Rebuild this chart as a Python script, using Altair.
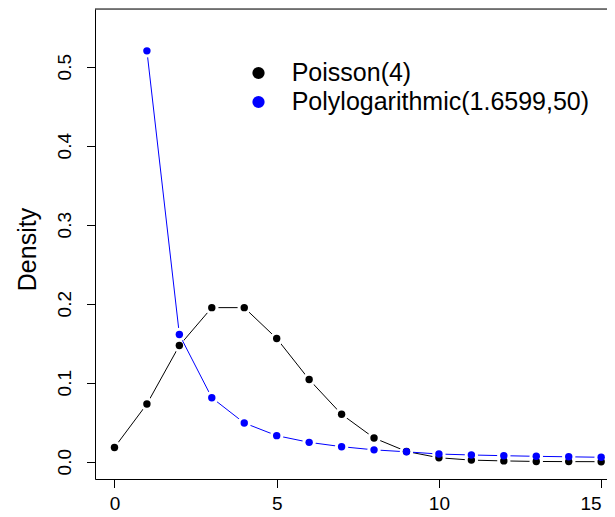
import altair as alt
import pandas as pd

# ---- data ----
k_pois = list(range(0, 16))
poisson = [0.018, 0.073, 0.147, 0.195, 0.195, 0.156, 0.104, 0.060, 0.030,
           0.013, 0.005, 0.002, 0.001, 0.0003, 0.0001, 0.00003]
k_poly = list(range(1, 16))
polylog = [0.520, 0.161, 0.081, 0.049, 0.033, 0.0245, 0.019, 0.015, 0.0125,
           0.0097, 0.0085, 0.0076, 0.0068, 0.0062, 0.0056]
series_names = ["Poisson(4)", "Polylogarithmic(1.6599,50)"]
series_colors = ["#000000", "#0000ff"]
x_ticks = [0, 5, 10, 15]
y_ticks = [0.0, 0.1, 0.2, 0.3, 0.4, 0.5]

df_p = pd.DataFrame({"k": k_pois, "d": poisson})
df_q = pd.DataFrame({"k": k_poly, "d": polylog})

FONT = "Liberation Sans"
W, H = 512, 470

xs = alt.Scale(domain=[-0.6, 15.18], nice=False, zero=False)
ys = alt.Scale(domain=[-0.0219, 0.5730], nice=False, zero=False)

x_axis = alt.Axis(values=x_ticks, title=None, grid=False, domainColor="black",
                  tickColor="black", tickSize=8.5, labelFont=FONT, labelFontSize=19,
                  labelColor="black", labelPadding=7, labelFlush=10,
                  labelBaseline="top")
y_axis = alt.Axis(values=y_ticks, format=".1f", title="Density", grid=False,
                  domainColor="black", tickColor="black", tickSize=8.5,
                  labelFont=FONT, labelFontSize=19, labelColor="black",
                  labelAngle=270, labelAlign="center", labelBaseline="bottom",
                  labelPadding=12, labelFlush=False,
                  titleFont=FONT, titleFontSize=25, titleFontWeight="normal",
                  titleColor="black", titleAngle=270, titleAlign="center",
                  titleBaseline="middle", titleX=-68, titleY=240)


def enc():
    return dict(
        x=alt.X("k:Q", scale=xs, axis=x_axis),
        y=alt.Y("d:Q", scale=ys, axis=y_axis),
    )


black_line = alt.Chart(df_p).mark_line(color=series_colors[0], strokeWidth=1).encode(**enc())
black_halo = alt.Chart(df_p).mark_circle(color="white", opacity=1, size=180).encode(**enc())
blue_line = alt.Chart(df_q).mark_line(color=series_colors[1], strokeWidth=1).encode(**enc())
blue_halo = alt.Chart(df_q).mark_circle(color="white", opacity=1, size=180).encode(**enc())
black_pts = alt.Chart(df_p).mark_circle(color=series_colors[0], opacity=1, size=55).encode(**enc())
blue_pts = alt.Chart(df_q).mark_circle(color=series_colors[1], opacity=1, size=55).encode(**enc())

top_border = alt.Chart(pd.DataFrame({"a": [0]})).mark_rule(color="black", strokeWidth=1).encode(
    x=alt.value(0), x2=alt.value(W), y=alt.value(0))

leg_layers = []
leg_y = [64, 93]
for name, col, yy in zip(series_names, series_colors, leg_y):
    d = pd.DataFrame({"label": [name]})
    leg_layers.append(alt.Chart(d).mark_circle(color=col, opacity=1, size=150).encode(
        x=alt.value(163.5), y=alt.value(yy)))
    leg_layers.append(alt.Chart(d).mark_text(align="left", baseline="middle", font=FONT,
                                             fontSize=25, color="black").encode(
        x=alt.value(196.7), y=alt.value(yy), text="label:N"))

chart = alt.layer(black_line, black_halo, blue_line, blue_halo, black_pts, blue_pts,
                  top_border, *leg_layers).properties(
    width=W, height=H,
    autosize=alt.AutoSizeParams(type="none"),
    padding={"left": 87, "top": 1, "right": 0, "bottom": 34},
).configure_view(strokeWidth=0).configure(background="white")

chart.save("out.html", embed_options={"renderer": "svg", "actions": False})
